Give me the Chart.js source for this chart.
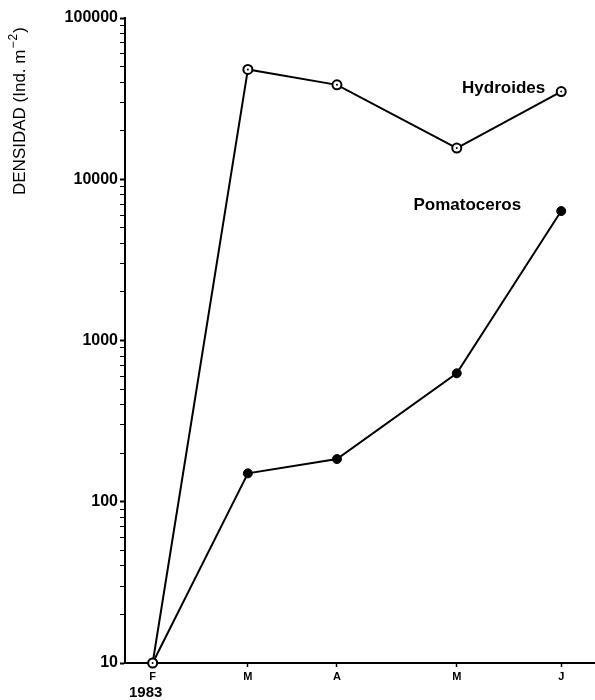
<!DOCTYPE html>
<html>
<head>
<meta charset="utf-8">
<script src="https://cdn.jsdelivr.net/npm/chart.js@4/dist/chart.umd.min.js"></script>
<style>
  html, body { margin: 0; padding: 0; background: #fff; }
  #wrap { width: 595px; height: 700px; position: relative; }
</style>
</head>
<body>
<div id="wrap"><canvas id="c" width="595" height="700"></canvas></div>
<script>
// Sampling dates (day of year, 1983) and their month labels
const sampleDays = [46, 77, 106, 145, 179];
const monthLabels = ['F', 'M', 'A', 'M', 'J'];
const yearLabel = '1983';

// Density (ind. m^-2)
const hydroides = [10, 48000, 38500, 15600, 35000];
const pomatoceros = [10, 150, 184, 626, 6350];

const seriesNames = ['Hydroides', 'Pomatoceros'];
const decadeTicks = [10, 100, 1000, 10000, 100000];

const FONT = '"Liberation Sans", Arial, sans-serif';

const toPoints = vals => vals.map((v, i) => ({ x: sampleDays[i], y: v }));

// Text annotations: series names, year under the first month, y-axis title
const annotations = {
  id: 'annotations',
  afterDraw(chart) {
    const { ctx, scales } = chart;
    const xs = scales.x, ys = scales.y;
    ctx.save();
    ctx.fillStyle = '#000';
    ctx.font = 'bold 17px ' + FONT;
    ctx.textAlign = 'right';
    ctx.textBaseline = 'alphabetic';
    const lastH = hydroides.length - 1;
    ctx.fillText(seriesNames[0], xs.getPixelForValue(sampleDays[lastH]) - 16, ys.getPixelForValue(hydroides[lastH]) + 1);
    const lastP = pomatoceros.length - 1;
    ctx.fillText(seriesNames[1], xs.getPixelForValue(sampleDays[lastP]) - 40, ys.getPixelForValue(pomatoceros[lastP]) - 1);

    ctx.font = 'bold 15px ' + FONT;
    ctx.textAlign = 'center';
    ctx.fillText(yearLabel, xs.getPixelForValue(sampleDays[0]) - 7, 697);

    // y-axis title, reading bottom to top, with a raised "-2" exponent
    ctx.translate(25, 195);
    ctx.rotate(-Math.PI / 2);
    ctx.textAlign = 'left';
    ctx.font = '17px ' + FONT;
    const main = 'DENSIDAD (Ind. m';
    ctx.fillText(main, 0, 0);
    let x = ctx.measureText(main).width;
    ctx.font = '12px ' + FONT;
    ctx.fillText('\u2212', x + 1, -8);
    x += ctx.measureText('\u2212').width + 1;
    ctx.fillText('2', x + 1, -8);
    x += ctx.measureText('2').width + 1;
    ctx.font = '17px ' + FONT;
    ctx.fillText(')', x + 1, 0);
    ctx.restore();
  }
};

// Small centre dot inside the open markers
const centreDots = {
  id: 'centreDots',
  afterDatasetsDraw(chart) {
    const meta = chart.getDatasetMeta(0);
    const ctx = chart.ctx;
    ctx.save();
    ctx.fillStyle = '#000';
    meta.data.forEach(pt => {
      ctx.beginPath();
      ctx.arc(pt.x, pt.y, 1, 0, Math.PI * 2);
      ctx.fill();
    });
    ctx.restore();
  }
};

new Chart(document.getElementById('c'), {
  type: 'line',
  data: {
    datasets: [
      {
        label: seriesNames[0],
        data: toPoints(hydroides),
        borderColor: '#000',
        borderWidth: 2,
        pointRadius: 4.5,
        pointBorderWidth: 2,
        pointBackgroundColor: '#fff',
        pointBorderColor: '#000',
        tension: 0,
        clip: false
      },
      {
        label: seriesNames[1],
        data: toPoints(pomatoceros),
        borderColor: '#000',
        borderWidth: 2,
        pointRadius: 4.5,
        pointBorderWidth: 1,
        pointBackgroundColor: '#000',
        pointBorderColor: '#000',
        tension: 0,
        clip: false
      }
    ]
  },
  options: {
    responsive: false,
    animation: false,
    layout: { autoPadding: false, padding: { top: 18, right: 0, bottom: 0, left: 0 } },
    plugins: { legend: { display: false }, tooltip: { enabled: false } },
    scales: {
      x: {
        type: 'linear',
        min: 37,
        max: 190,
        afterBuildTicks(scale) {
          scale.ticks = sampleDays.map(v => ({ value: v }));
        },
        afterFit(scale) { scale.height = 37; },
        ticks: {
          autoSkip: false,
          maxRotation: 0,
          padding: 3,
          color: '#000',
          font: { family: FONT, size: 11, weight: 'bold' },
          callback(value) {
            const i = sampleDays.indexOf(value);
            return i >= 0 ? monthLabels[i] : '';
          }
        },
        grid: { drawOnChartArea: false, tickLength: 4, tickColor: '#000', tickWidth: 1.5 },
        border: { display: true, color: '#000', width: 2 }
      },
      y: {
        type: 'logarithmic',
        min: 10,
        max: 100000,
        afterBuildTicks(scale) {
          const t = [];
          for (let d = 10; d < 100000; d *= 10) {
            for (let k = 1; k <= 9; k++) t.push({ value: d * k });
          }
          t.push({ value: 100000 });
          scale.ticks = t;
        },
        afterFit(scale) { scale.width = 125; },
        ticks: {
          autoSkip: false,
          padding: 2,
          color: '#000',
          font: { family: FONT, size: 16, weight: 'bold' },
          callback(value) {
            return decadeTicks.includes(value) ? String(value) : '';
          }
        },
        grid: {
          drawOnChartArea: false,
          tickLength: 5,
          tickColor: '#000',
          tickWidth: ctx => (ctx.tick && decadeTicks.includes(ctx.tick.value)) ? 2 : 1
        },
        border: { display: true, color: '#000', width: 2 }
      }
    }
  },
  plugins: [annotations, centreDots]
});
</script>
</body>
</html>
